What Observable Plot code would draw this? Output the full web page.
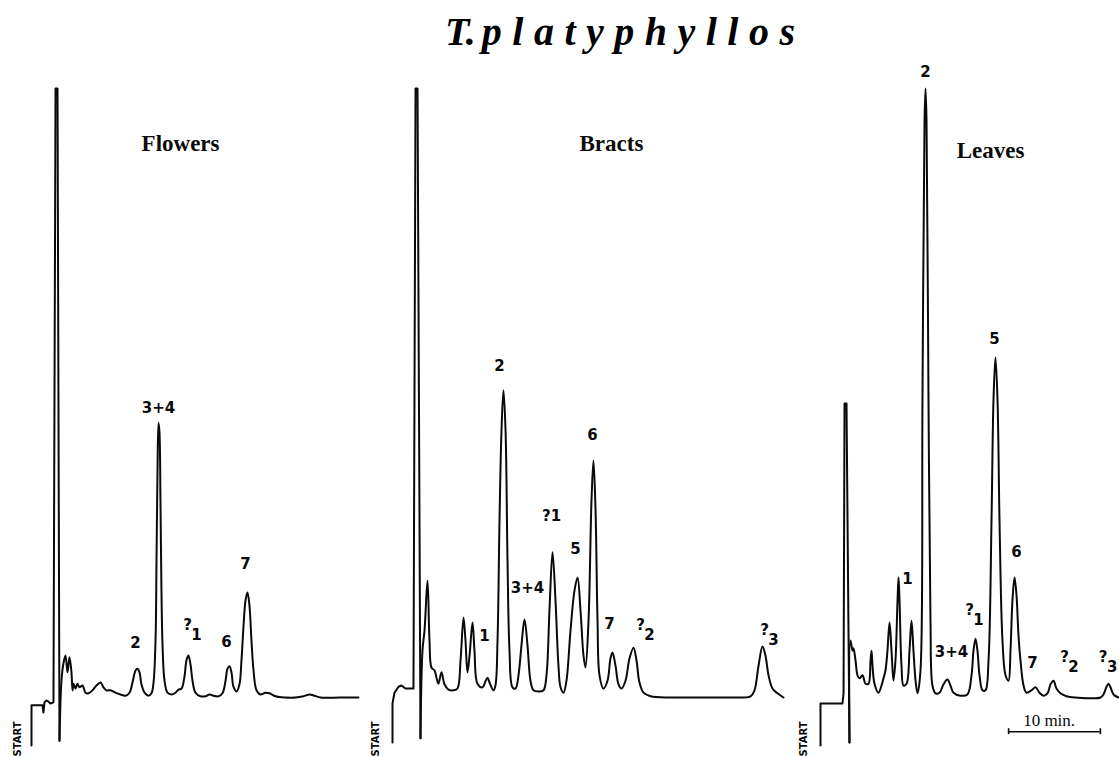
<!DOCTYPE html>
<html>
<head>
<meta charset="utf-8">
<script src="https://cdn.jsdelivr.net/npm/d3@7"></script>
<script src="https://cdn.jsdelivr.net/npm/@observablehq/plot@0.6"></script>
<style>
  body { margin: 0; background: #fff; }
  #chart { position: relative; width: 1119px; height: 757px; overflow: hidden; background: #fff; }
  #title { position: absolute; left: 445px; top: 8px; line-height: 40px; font: italic bold 40px "Liberation Serif", "Times New Roman", serif; white-space: nowrap; z-index: 5; color: #000; }
  #title .sp { letter-spacing: 10.5px; margin-left: 6px; }
  .panel { position: absolute; top: 0; }
  g[aria-label="peak labels"] text, g[aria-label="peak subscripts"] text { letter-spacing: 1px; }
  g[aria-label="panel name"] text { letter-spacing: 2px; }
  g[aria-label="start"] text { letter-spacing: 1.5px; }
</style>
</head>
<body>
<div id="chart">
  <div id="title">T.<span class="sp">platyphyllos</span></div>
</div>
<script>
// ---- Data: retention time (min, from START) and detector signal (relative units) ----
// Injection step and solvent front (drawn with straight segments)
const flowersFront = [
  [0,-8.0],[0,-1.3],[1.22,-1.3],[1.33,-2.5],[1.44,-0.8],[1.67,-0.5],[1.89,-0.7],[2.11,-1.0],[2.44,-0.8],
  [2.67,101.5],[2.89,101.5],[3.11,-7.2]
];
// Elution trace (drawn smooth)
const flowersTrace = [
  [3.11,-7.2],[3.33,2.8],[3.56,5.8],[3.78,7.0],[4.0,4.2],[4.22,6.7],[4.44,4.2],
  [4.56,1.2],[4.67,2.3],[4.89,1.5],[5.11,2.3],[5.33,1.7],[5.67,2.0],[6.0,0.8],[6.33,0.7],[6.78,1.2],
  [7.22,2.0],[7.67,2.5],[8.0,1.7],[8.33,1.2],[8.78,1.2],[9.33,0.8],[9.89,0.5],[10.44,0.3],[10.89,0.8],
  [11.22,2.5],[11.56,4.5],[11.78,4.8],[12.0,4.2],[12.22,2.2],[12.56,0.8],[13.0,0.3],[13.33,0.7],[13.56,2.5],
  [13.78,9.5],[13.89,22.8],[14.0,37.8],[14.11,45.8],[14.22,44.2],[14.33,32.8],[14.44,17.8],[14.56,8.7],
  [14.78,2.8],[15.11,0.8],[15.56,0.5],[16.0,0.8],[16.33,1.3],[16.67,1.5],[17.0,3.5],[17.22,6.2],[17.44,7.0],
  [17.67,5.5],[17.89,2.8],[18.22,0.8],[18.78,0.2],[19.33,0.2],[19.78,0.5],[20.22,0.3],[20.78,0.2],[21.22,0.7],
  [21.56,2.8],[21.78,4.8],[22.0,5.2],[22.22,4.2],[22.44,1.8],[22.78,1.0],[23.11,2.2],[23.33,6.2],[23.56,12.0],
  [23.78,16.2],[24.0,17.5],[24.22,15.3],[24.44,9.5],[24.67,4.5],[25.0,1.2],[25.44,0.5],[26.0,0.8],[26.44,0.7],
  [27.11,0.2],[28.22,0],[29.33,0],[30.22,0.2],[30.89,0.5],[31.44,0.3],[32.11,0],[34.33,0],[36.33,0]
];
const bractsFront = [
  [0,-7.5],[0,-1.0],[0.22,0.8],[0.67,1.8],[1.0,2.0],[1.44,1.5],[2.33,1.5],[2.56,101.5],[2.78,101.5],
  [3.11,-6.8]
];
const bractsTrace = [
  [3.11,-6.8],[3.33,7.8],[3.56,11.2],[3.89,19.5],[4.11,9.5],[4.33,5.0],[4.67,4.5],[4.89,3.3],[5.11,2.3],
  [5.44,4.2],[5.78,2.2],[6.22,1.3],[6.78,1.2],[7.22,1.5],[7.56,6.2],[7.89,13.3],[8.11,9.5],[8.33,4.2],
  [8.56,7.0],[8.89,12.5],[9.11,7.8],[9.44,2.3],[10.0,1.7],[10.33,2.7],[10.56,3.3],[10.78,2.5],[11.22,1.2],
  [11.44,2.0],[11.67,9.5],[11.89,29.5],[12.11,44.5],[12.33,51.2],[12.56,44.5],[12.78,22.8],[13.0,7.8],
  [13.33,1.7],[13.67,1.5],[14.0,3.7],[14.33,8.7],[14.67,13.0],[15.0,8.7],[15.33,2.8],[15.67,1.2],[16.22,1.0],
  [16.78,1.2],[17.11,3.7],[17.44,14.5],[17.78,24.2],[18.11,16.2],[18.44,5.3],[18.67,1.7],[19.0,0.8],
  [19.33,2.8],[19.78,11.2],[20.22,17.8],[20.56,20.0],[20.89,14.5],[21.22,7.0],[21.44,5.0],[21.78,12.8],
  [22.11,32.8],[22.33,39.5],[22.56,31.2],[22.78,12.8],[23.0,3.7],[23.44,1.5],[23.89,2.8],[24.22,6.5],
  [24.44,7.5],[24.78,5.3],[25.11,2.2],[25.44,1.5],[25.89,2.8],[26.33,6.5],[26.78,8.3],[27.11,6.2],[27.44,2.5],
  [27.89,0.8],[28.67,0.2],[30.89,0],[34.22,0],[37.56,0],[39.78,0.2],[40.22,1.2],[40.67,5.3],[41.11,8.5],
  [41.44,7.0],[41.78,3.7],[42.22,1.5],[42.78,0.7],[43.44,0]
];
const leavesFront = [
  [0,-8.0],[0,-1.0],[2.44,-1.0],[2.56,0.7],[2.67,49.0],[2.89,49.0],[3.22,-7.5]
];
const leavesTrace = [
  [3.22,-7.5],[3.33,9.5],[3.56,7.8],
  [3.67,8.2],[3.89,6.2],[4.11,3.7],[4.33,3.2],[4.67,3.7],[5.0,2.3],[5.33,2.3],[5.56,6.2],[5.67,7.8],
  [5.78,5.3],[6.0,2.3],[6.44,0.8],[6.78,2.0],[7.0,3.2],[7.22,4.5],[7.44,7.8],[7.67,12.5],[7.89,7.8],
  [8.11,2.8],[8.33,6.2],[8.56,16.2],[8.67,20.0],[8.78,16.2],[9.0,5.3],[9.22,2.0],[9.56,2.3],[9.89,7.8],
  [10.11,12.8],[10.33,7.8],[10.56,2.8],[10.78,0.7],[11.11,4.5],[11.33,49.5],[11.56,96.2],[11.67,101.5],
  [11.78,96.2],[12.0,49.5],[12.22,12.8],[12.44,2.0],[12.78,0.7],[13.22,0.8],[13.67,2.2],[14.11,3.0],
  [14.44,2.0],[14.78,0.8],[15.56,0.3],[16.33,0.5],[16.78,3.7],[17.0,7.8],[17.22,9.8],[17.44,7.8],[17.67,3.7],
  [18.0,1.2],[18.33,1.2],[18.67,6.2],[19.0,29.5],[19.22,49.5],[19.44,56.7],[19.67,49.5],[19.89,29.5],
  [20.22,9.5],[20.56,3.7],[20.89,2.8],[21.11,7.8],[21.33,16.2],[21.56,20.0],[21.78,17.0],[22.0,10.3],
  [22.22,6.2],[22.56,2.0],[22.89,0.8],[23.44,1.2],[23.89,1.7],[24.33,0.8],[24.78,0.3],[25.22,0.7],[25.56,2.2],
  [25.89,2.8],[26.22,1.5],[26.67,0.7],[27.33,0.2],[28.33,0],[31.11,0],[31.44,0.5],[31.78,1.8],[32.0,2.3],
  [32.22,1.7],[32.56,0.5],[33.11,0]
];

// Peak labels: name, optional subscript, and where the label sits (time, signal)
const flowersPeaks = [
  {name: "2", t: 11.56, s: 9.0},
  {name: "3+4", t: 14.11, s: 48.3},
  {name: "?", sub: "1", t: 17.33, s: 12.0},
  {name: "6", t: 21.67, s: 9.2},
  {name: "7", t: 23.78, s: 22.3}
];
const bractsPeaks = [
  {name: "1", t: 10.22, s: 10.3},
  {name: "2", t: 11.89, s: 55.2},
  {name: "3+4", t: 15.0, s: 18.3},
  {name: "?1", t: 17.67, s: 30.3},
  {name: "5", t: 20.33, s: 24.8},
  {name: "6", t: 22.22, s: 43.7},
  {name: "7", t: 24.11, s: 12.3},
  {name: "?", sub: "2", t: 27.56, s: 12.0},
  {name: "?", sub: "3", t: 41.33, s: 11.2}
];
const leavesPeaks = [
  {name: "1", t: 9.67, s: 19.8},
  {name: "2", t: 11.67, s: 104.2},
  {name: "3+4", t: 14.56, s: 7.5},
  {name: "?", sub: "1", t: 16.56, s: 14.5},
  {name: "5", t: 19.33, s: 59.8},
  {name: "6", t: 21.78, s: 24.3},
  {name: "7", t: 23.56, s: 5.8},
  {name: "?", sub: "2", t: 27.11, s: 6.7},
  {name: "?", sub: "3", t: 31.4, s: 6.7}
];

const panelNames = ["Flowers", "Bracts", "Leaves"];
const panelNameAt = [{t: 16.56, s: 92.3}, {t: 24.33, s: 92.3}, {t: 18.89, s: 91.2}];
const startLabelAt = [{t: -1.56, s: -6.9}, {t: -1.89, s: -6.9}, {t: -1.89, s: -6.9}];
const scaleBar = {from: 20.9, to: 31.1, level: -5.7, label: "10 min.", labelT: 25.4, labelS: -3.8};

// ---- Layout of the three panels (page position and x-range) ----
const layout = [
  {left: 0,   width: 372, x0: 31, tMax: 37},
  {left: 372, width: 418, x0: 20, tMax: 44},
  {left: 790, width: 329, x0: 30, tMax: 33.2}
];
const PX_PER_MIN = 9;

const sans = "'DejaVu Sans', 'Liberation Sans', Arial, sans-serif";
const serif = "'Liberation Serif', 'Times New Roman', serif";

function panel(i, front, trace, peaks) {
  const L = layout[i];
  const ink = "#0a0a0a";
  const marks = [
    Plot.line(front, {x: d => d[0], y: d => d[1], stroke: ink, strokeWidth: 2, strokeLinejoin: "round", strokeLinecap: "round"}),
    Plot.line(trace, {x: d => d[0], y: d => d[1], curve: "catmull-rom", stroke: ink, strokeWidth: 2, strokeLinejoin: "round", strokeLinecap: "round"}),
    Plot.text(peaks, {x: "t", y: "s", text: "name", fontFamily: sans, fontWeight: "bold", fontSize: 15, fill: ink, ariaLabel: "peak labels"}),
    Plot.text(peaks.filter(d => d.sub), {x: "t", y: "s", text: "sub", dx: 9, dy: 10, fontFamily: sans, fontWeight: "bold", fontSize: 15, fill: ink, ariaLabel: "peak subscripts"}),
    Plot.text([panelNames[i]], {x: panelNameAt[i].t, y: panelNameAt[i].s, text: d => d, fontFamily: serif, fontWeight: "bold", fontSize: 23, fill: ink, ariaLabel: "panel name"}),
    Plot.text(["START"], {x: startLabelAt[i].t, y: startLabelAt[i].s, text: d => d, rotate: -90, fontFamily: sans, fontWeight: "bold", fontSize: 10, fill: ink, ariaLabel: "start"})
  ];
  if (i === 2) {
    marks.push(
      Plot.ruleY([scaleBar], {x1: "from", x2: "to", y: "level", stroke: ink, strokeWidth: 1.6}),
      Plot.ruleX([scaleBar.from, scaleBar.to], {x: d => d, y1: scaleBar.level + 0.5, y2: scaleBar.level - 0.5, stroke: ink, strokeWidth: 1.6}),
      Plot.text([scaleBar], {x: "labelT", y: "labelS", text: "label", fontFamily: serif, fontSize: 17, fill: ink})
    );
  }
  const svg = Plot.plot({
    width: L.width,
    height: 757,
    margin: 0,
    x: {domain: [0, L.tMax], range: [L.x0, L.x0 + L.tMax * PX_PER_MIN], axis: null},
    y: {domain: [0, 100], range: [697, 97], axis: null},
    style: {background: "transparent", overflow: "visible"},
    marks
  });
  svg.classList.add("panel");
  svg.style.left = L.left + "px";
  svg.style.top = "0px";
  svg.style.position = "absolute";
  return svg;
}

const chart = document.getElementById("chart");
chart.appendChild(panel(0, flowersFront, flowersTrace, flowersPeaks));
chart.appendChild(panel(1, bractsFront, bractsTrace, bractsPeaks));
chart.appendChild(panel(2, leavesFront, leavesTrace, leavesPeaks));
</script>
</body>
</html>
